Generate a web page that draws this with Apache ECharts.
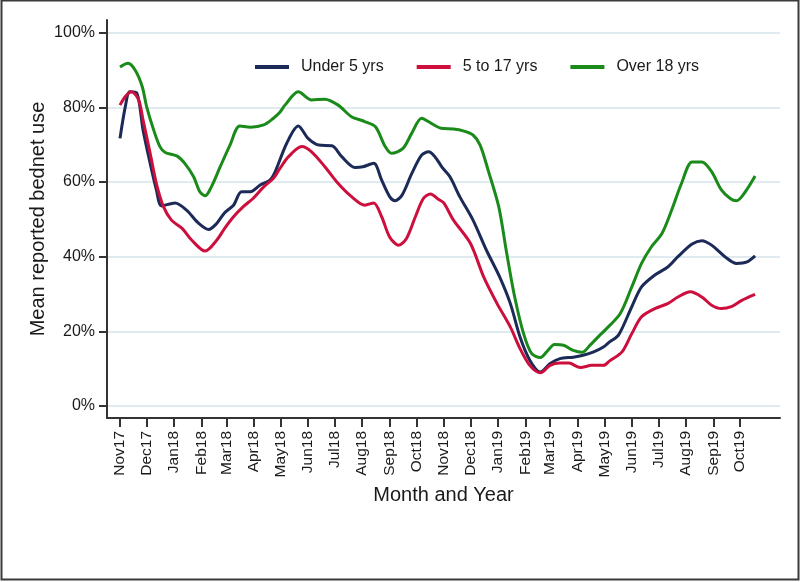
<!DOCTYPE html>
<html>
<head>
<meta charset="utf-8">
<script src="https://cdn.jsdelivr.net/npm/echarts@6/dist/echarts.min.js"></script>
<style>
html,body{margin:0;padding:0;background:#fff;}
#chart{width:800px;height:582px;}
</style>
</head>
<body>
<div id="chart"></div>
<script>
// Month tick labels (first day of each month, Nov 2017 .. Oct 2019)
const monthLabels = ["Nov17","Dec17","Jan18","Feb18","Mar18","Apr18","May18","Jun18","Jul18","Aug18","Sep18","Oct18",
  "Nov18","Dec18","Jan19","Feb19","Mar19","Apr19","May19","Jun19","Jul19","Aug19","Sep19","Oct19"];
const yTickValues = [0, 20, 40, 60, 80, 100];
const seriesNames = ["Under 5 yrs", "5 to 17 yrs", "Over 18 yrs"];

// Data: [days since 1 Nov 2017, mean reported bednet use %]
const under5 = [[0,71.7],[6,80.2],[11,84.2],[19,83.8],[26,73.9],[34,65.0],[41,57.9],[47,53.6],[62,54.4],[75,52.5],[88,49.1],[100,47.3],[109,48.9],[118,51.8],[128,53.8],[137,57.4],[147,57.4],[158,59.2],[169,60.5],[175,62.8],[188,70.4],[201,75.0],[212,71.7],[224,69.9],[239,69.7],[250,66.8],[265,63.9],[274,64.1],[286,65.0],[295,60.5],[304,56.1],[310,55.0],[318,56.5],[329,62.3],[340,67.2],[348,68.1],[355,66.8],[363,64.0],[372,61.4],[383,56.1],[398,49.8],[413,41.8],[428,34.6],[440,27.5],[451,18.5],[462,12.3],[474,9.1],[485,11.4],[496,12.7],[511,13.1],[522,13.6],[534,14.5],[545,15.8],[552,17.2],[562,19.0],[577,26.6],[588,31.9],[603,35.1],[618,37.3],[629,40.0],[645,43.4],[656,44.3],[667,43.1],[682,40.0],[695,38.2],[707,38.6],[716,40.2]];
const age5to17 = [[0,80.6],[6,82.9],[13,84.2],[21,82.0],[26,76.6],[34,67.7],[41,59.6],[49,53.4],[58,49.8],[70,47.6],[81,44.4],[96,41.5],[109,44.4],[118,47.6],[128,50.7],[139,53.4],[150,55.6],[162,58.7],[173,61.0],[180,63.5],[190,66.8],[205,69.5],[216,68.1],[231,64.1],[246,59.6],[261,56.1],[276,53.8],[286,54.4],[295,50.7],[304,45.3],[314,43.1],[323,44.9],[333,50.7],[342,55.6],[350,56.8],[359,55.4],[365,54.4],[376,49.8],[395,43.6],[410,34.6],[425,27.5],[440,21.2],[451,15.4],[462,10.9],[474,8.9],[485,10.9],[496,11.5],[506,11.5],[519,10.3],[532,10.9],[545,10.9],[552,12.1],[566,14.5],[577,19.4],[588,23.9],[603,26.1],[618,27.5],[629,29.2],[643,30.6],[656,29.2],[667,27.0],[678,26.1],[690,26.7],[701,28.3],[716,29.9]];
const over18 = [[0,90.8],[9,91.8],[17,90.0],[25,85.6],[30,80.2],[38,73.9],[45,69.5],[51,67.9],[64,67.0],[73,65.0],[83,61.4],[90,57.4],[96,56.3],[103,58.7],[113,64.1],[124,69.9],[135,75.0],[147,74.7],[162,75.3],[173,77.1],[180,78.6],[186,80.6],[201,84.2],[216,82.0],[231,82.2],[246,80.6],[261,77.5],[276,76.2],[288,74.8],[299,69.5],[306,67.7],[319,69.0],[329,73.1],[340,77.1],[351,75.7],[362,74.4],[376,74.2],[387,73.7],[398,72.6],[406,69.9],[415,63.2],[427,53.4],[436,40.9],[445,29.2],[455,19.4],[464,14.1],[474,13.0],[481,14.5],[490,16.5],[500,16.3],[511,14.9],[521,14.4],[530,16.3],[541,19.0],[548,20.6],[564,24.8],[577,31.9],[588,38.2],[599,42.6],[611,46.2],[622,52.5],[633,59.6],[645,65.4],[656,65.4],[667,62.8],[678,57.9],[688,55.6],[695,55.0],[705,57.4],[716,61.6]];

// day offsets of month starts, derived from the labels
const DAY = 86400000;
const start = Date.UTC(2017, 10, 1);
const monthDays = monthLabels.map((l, i) => Math.round((Date.UTC(2017, 10 + i, 1) - start) / DAY));
const labelByDay = {};
monthDays.forEach((d, i) => { labelByDay[d] = monthLabels[i]; });

const FONT = '"Liberation Sans", Arial, sans-serif';
const TXT = '#1a1a1a';
const chart = echarts.init(document.getElementById('chart'), null, {renderer: 'canvas'});
chart.setOption({
  animation: false,
  backgroundColor: '#fff',
  textStyle: {fontFamily: FONT},
  graphic: [{
    type: 'rect', silent: true, z: 100,
    shape: {x: 1.5, y: 0.5, width: 797, height: 579},
    style: {fill: 'none', stroke: '#3a3a3a', lineWidth: 2}
  }],
  grid: {left: 107, right: 20, top: 20, bottom: 164, containLabel: false},
  legend: {
    data: seriesNames,
    left: 250, top: 54,
    icon: 'rect', itemWidth: 34, itemHeight: 4, itemGap: 33,
    textStyle: {fontFamily: FONT, fontSize: 16, color: TXT, padding: [0, 0, 0, 7]}
  },
  xAxis: {
    type: 'value', min: -14.66, max: 744.1,
    name: 'Month and Year', nameLocation: 'middle', nameGap: 67, nameMoveOverlap: false,
    nameTextStyle: {fontFamily: FONT, fontSize: 20, color: TXT},
    axisLine: {show: true, onZero: false, lineStyle: {color: '#333', width: 2}},
    axisTick: {show: true, length: 9, customValues: monthDays, lineStyle: {color: '#333', width: 2}},
    axisLabel: {customValues: monthDays, rotate: 90, margin: 13, fontFamily: FONT, fontSize: 15.5, color: TXT,
      formatter: v => labelByDay[Math.round(v)] || ''},
    splitLine: {show: false}
  },
  yAxis: {
    type: 'value', min: -3.2, max: 103.4,
    name: 'Mean reported bednet use', nameLocation: 'middle', nameGap: 59, nameMoveOverlap: false,
    nameTextStyle: {fontFamily: FONT, fontSize: 20, color: TXT},
    axisLine: {show: true, onZero: false, lineStyle: {color: '#333', width: 2}},
    axisTick: {show: true, length: 8, customValues: yTickValues, lineStyle: {color: '#333', width: 2}},
    axisLabel: {customValues: yTickValues, margin: 12, fontFamily: FONT, fontSize: 16, color: TXT,
      formatter: v => Math.round(v) + '%'},
    splitLine: {show: true, lineStyle: {color: '#e0ebf1', width: 2}}
  },
  series: [
    {name: seriesNames[0], type: 'line', data: under5, smooth: 0.3, showSymbol: false,
      color: '#1b2a57', lineStyle: {width: 3, color: '#1b2a57'}},
    {name: seriesNames[1], type: 'line', data: age5to17, smooth: 0.3, showSymbol: false,
      color: '#cc0f3d', lineStyle: {width: 3, color: '#cc0f3d'}},
    {name: seriesNames[2], type: 'line', data: over18, smooth: 0.3, showSymbol: false,
      color: '#1a8a1a', lineStyle: {width: 3, color: '#1a8a1a'}}
  ]
});
</script>
</body>
</html>
